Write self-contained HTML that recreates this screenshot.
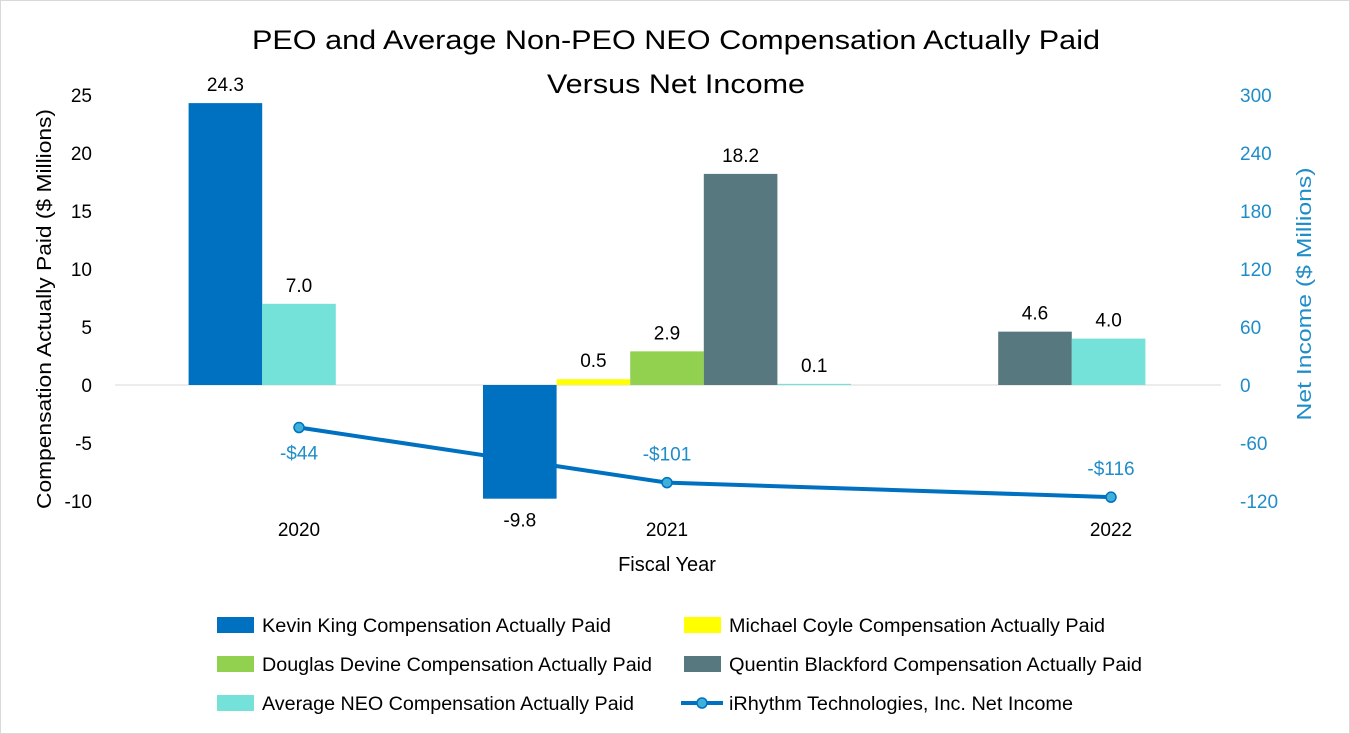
<!DOCTYPE html>
<html><head><meta charset="utf-8"><style>
body{margin:0;background:#fff;font-family:"Liberation Sans",sans-serif;}
#wrap{position:relative;width:1348px;height:732px;border:1px solid #d9d9d9;overflow:hidden;}
</style></head><body>
<div id="wrap">
<svg id="chart" width="1350" height="734" font-family="Liberation Sans, sans-serif"></svg>
</div>
<script>
const categories=["2020","2021","2022"];
const kevin=[24.3,-9.8,null];
const coyle=[null,0.5,null];
const devine=[null,2.9,null];
const quentin=[null,18.2,4.6];
const avgNeo=[7.0,0.1,4.0];
const netIncome=[-44,-101,-116];
const netLabels=["-$44","-$101","-$116"];
const leftTicks=[25,20,15,10,5,0,-5,-10];
const rightTicks=[300,240,180,120,60,0,-60,-120];

const NS="http://www.w3.org/2000/svg";
const svg=document.getElementById('chart');
function el(t,a,txt){const e=document.createElementNS(NS,t);for(const k in a)e.setAttribute(k,a[k]);if(txt!==undefined)e.textContent=txt;svg.appendChild(e);return e;}
const y0=384, pxL=11.6, pxR=290/300;
const yL=v=>y0-v*pxL, yR=v=>y0-v*pxR;
const catStart=[114,482,850], slotW=73.6, catCenter=[298,666,1110];

el('line',{x1:114,x2:1220,y1:y0,y2:y0,stroke:'#d9d9d9','stroke-width':1});
const t1=el('text',{x:675,y:48,'text-anchor':'middle','font-size':27,fill:'#000',textLength:848,lengthAdjust:'spacingAndGlyphs'},'PEO and Average Non-PEO NEO Compensation Actually Paid');

const t2=el('text',{x:675,y:92,'text-anchor':'middle','font-size':27,fill:'#000',textLength:258,lengthAdjust:'spacingAndGlyphs'},'Versus Net Income');


leftTicks.forEach(v=>{const t=el('text',{x:91,y:yL(v)+7,'text-anchor':'end','font-size':19,fill:'#000'},String(v));
});
rightTicks.forEach(v=>{const t=el('text',{x:1239,y:yR(v)+7,'font-size':19,fill:'#1f8dc8'},String(v));
});
const ya=el('text',{x:50,y:308,transform:'rotate(-90 50 308)','text-anchor':'middle','font-size':20,fill:'#000',textLength:400,lengthAdjust:'spacingAndGlyphs'},'Compensation Actually Paid ($ Millions)');

const yb=el('text',{x:1310,y:293,transform:'rotate(-90 1310 293)','text-anchor':'middle','font-size':20,fill:'#1f8dc8',textLength:253,lengthAdjust:'spacingAndGlyphs'},'Net Income ($ Millions)');

categories.forEach((c,i)=>{const t=el('text',{x:catCenter[i],y:535,'text-anchor':'middle','font-size':19,fill:'#000'},c);
});
const xt=el('text',{x:666,y:570,'text-anchor':'middle','font-size':20,fill:'#000'},'Fiscal Year');


const series=[
 {name:'Kevin King Compensation Actually Paid',vals:kevin,color:'#0070c0',slots:[1,0,0]},
 {name:'Michael Coyle Compensation Actually Paid',vals:coyle,color:'#ffff00',slots:[0,1,0]},
 {name:'Douglas Devine Compensation Actually Paid',vals:devine,color:'#92d050',slots:[0,2,0]},
 {name:'Quentin Blackford Compensation Actually Paid',vals:quentin,color:'#56787e',slots:[0,3,2]},
 {name:'Average NEO Compensation Actually Paid',vals:avgNeo,color:'#75e2da',slots:[2,4,3]}];
series.forEach(s=>{s.vals.forEach((v,i)=>{if(v===null)return;
 const x=catStart[i]+s.slots[i]*slotW;const top=Math.min(yL(v),y0),h=Math.abs(yL(v)-y0);
 const r=el('rect',{x:x,y:top,width:slotW,height:h,fill:s.color});
 
 const ly=v>=0?yL(v)-12:yL(v)+28;
 const t=el('text',{x:x+slotW/2,y:ly,'text-anchor':'middle','font-size':19,fill:'#000'},v.toFixed(1));
 });});

const pts=netIncome.map((v,i)=>catCenter[i]+','+yR(v)).join(' ');
const pl=el('polyline',{points:pts,fill:'none',stroke:'#0070c0','stroke-width':4});

netIncome.forEach((v,i)=>{const c=el('circle',{cx:catCenter[i],cy:yR(v),r:5,fill:'#3fb0d8',stroke:'#0070c0','stroke-width':1.5});
 
 const t=el('text',{x:catCenter[i],y:i==0?yR(v)+32:yR(v)-22,'text-anchor':'middle','font-size':19,fill:'#1f8dc8'},netLabels[i]);
 });

const leg=[[216,624,0],[683,624,1],[216,663,2],[683,663,3],[216,702,4]];
const legW=[349,376,390,413,372];
leg.forEach(([x,y,k],j)=>{const s=series[k];const r=el('rect',{x:x,y:y-8,width:37,height:16,fill:s.color});
 
 const t=el('text',{x:x+45,y:y+7,'font-size':19,fill:'#000',textLength:legW[j],lengthAdjust:'spacingAndGlyphs'},s.name);
 });
const ll=el('line',{x1:680,x2:722,y1:702,y2:702,stroke:'#0070c0','stroke-width':4});

const lc=el('circle',{cx:701,cy:702,r:5,fill:'#3fb0d8',stroke:'#0070c0','stroke-width':1.5});

const lt=el('text',{x:728,y:709,'font-size':19,fill:'#000',textLength:344,lengthAdjust:'spacingAndGlyphs'},'iRhythm Technologies, Inc. Net Income');

</script>
</body></html>
